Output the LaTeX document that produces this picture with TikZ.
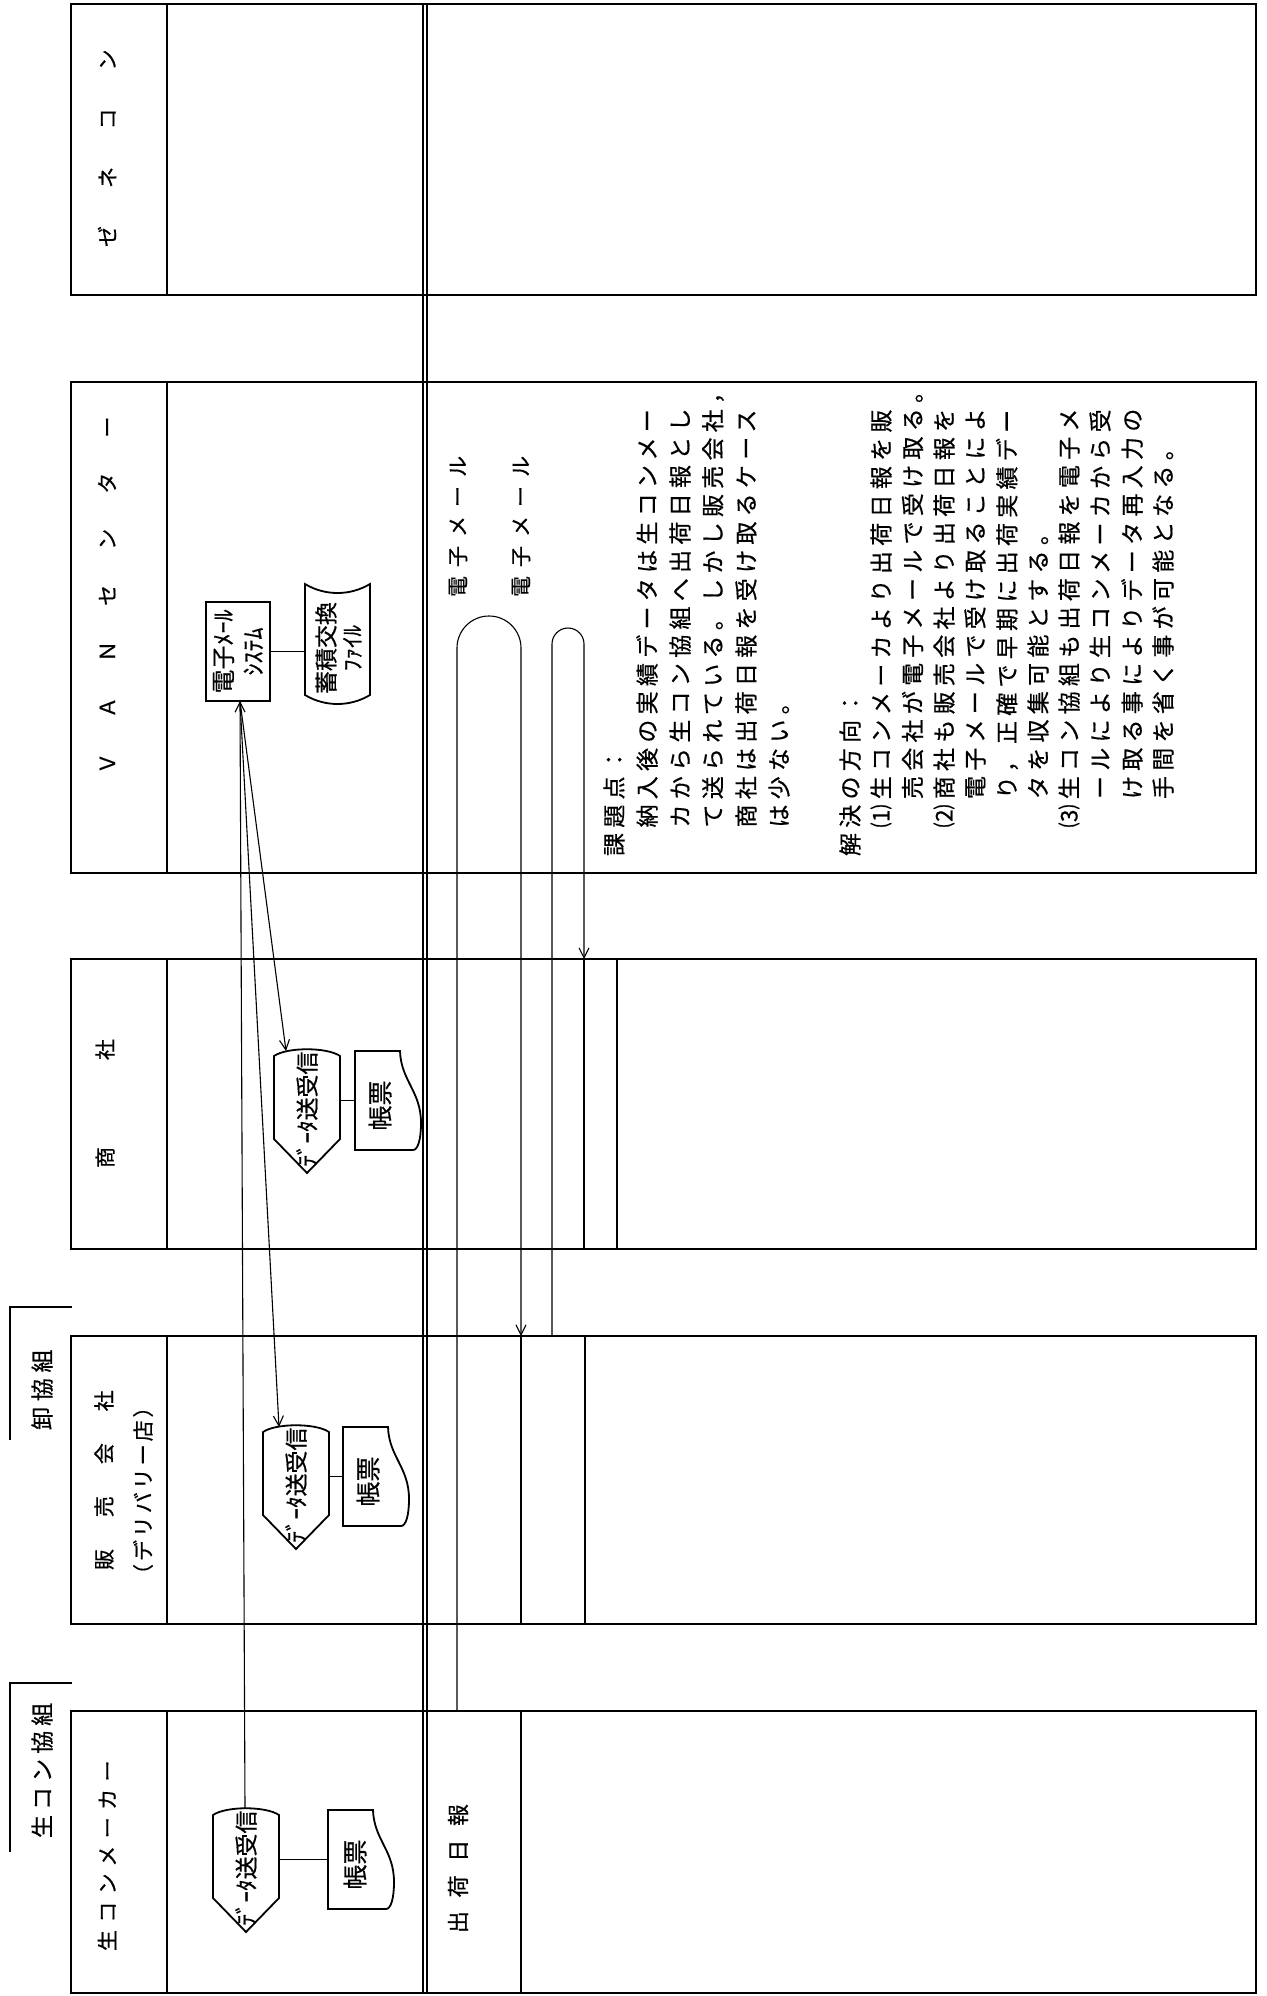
\documentclass[tikz,border=0pt]{standalone}
\usepackage{fontspec}
\setmainfont{Noto Sans CJK JP}[FakeBold=0.6]
\usetikzlibrary{arrows.meta,calc}
\newcommand\fsz[2][0]{\fontsize{#2}{#2}\selectfont}
\newcommand\lsp[1]{\addfontfeatures{LetterSpace=#1}}
\tikzset{
  frame/.style={line width=1.3pt},
  flowline/.style={line width=1.1pt},
  shp/.style={line width=1.8pt},
  arr/.style={-{Straight Barb[length=10pt,width=10pt]}},
  vtxt/.style={rotate=90, inner sep=0pt, outer sep=0pt},
  lane/.style={vtxt, anchor=west, font=\fsz{21}},
  body/.style={vtxt, anchor=west, font=\fsz{23}\lsp{23}},
  ghost/.style={inner sep=0pt, outer sep=0pt},
}
\newcommand\datashp[1]{%
  \draw[shp] ($(#1.north west)+(0,7)$) .. controls ($(#1.north west)+(13,-2)$) and ($(#1.north east)+(-13,-2)$) .. ($(#1.north east)+(0,7)$)
    -- ($(#1.north east)+(0,90)$) -- (#1.south) -- ($(#1.north west)+(0,90)$) -- cycle;}
\newcommand\docshp[1]{%
  \draw[shp] (#1.north west) -- ($(#1.north west)+(45,0)$)
    .. controls ($(#1.north west)+(46,30)$) and ($(#1.north west)+(66,40)$) .. ($(#1.north west)+(66,72)$)
    .. controls ($(#1.north west)+(66,88)$) and ($(#1.north west)+(63,99)$) .. ($(#1.north west)+(58,99)$)
    -- (#1.south west) -- cycle;}
\begin{document}
\begin{tikzpicture}[x=1pt,y=-1pt]
\useasboundingbox (0,0) rectangle (1266,1996);
\fill[white] (0,0) rectangle (1266,1996);

% ---- lane frames ----
\foreach \t/\b in {4/295, 382/873, 959/1249, 1336/1624, 1711/1993} {
  \draw[frame] (71,\t) rectangle (1256,\b);
  \draw[frame] (167,\t) -- (167,\b);
}
\draw[frame] (423,4) -- (423,1993);
\draw[frame] (427,4) -- (427,1993);
% row dividers in the right part
\draw[frame] (521,1711) -- (521,1993);
\draw[frame] (521,1336) -- (521,1624);
\draw[frame] (585,1336) -- (585,1624);
\draw[frame] (584,959) -- (584,1249);
\draw[frame] (617,959) -- (617,1249);

% ---- group brackets ----
\draw[frame] (72,1307) -- (10,1307) -- (10,1440);
\draw[frame] (72,1683) -- (10,1683) -- (10,1852);
\node[lane, font=\fsz{23}\lsp{25}] (g1) at (42,1430) {卸協組};
\node[lane, font=\fsz{23}\lsp{22}] (g2) at (42,1838) {生コン協組};

% ---- lane labels ----
\node[lane, font=\fsz{21}\lsp{181}] (l1) at (107,247) {ゼネコン};
\node[lane, font=\fsz{21}\lsp{167}] (l2) at (107,774) {ＶＡＮセンター};
\node[lane, font=\fsz{21}\lsp{414}] (l3) at (105,1168) {商社};
\node[lane, font=\fsz{21}\lsp{152}] (l4a) at (104,1570) {販売会社};
\node[lane, font=\fsz{21}\lsp{14}] (l4b) at (143,1585) {（デリバリー店）};
\node[lane, font=\fsz{21}\lsp{35}] (l5) at (107,1951) {生コンメーカー};

% ---- VAN centre ----
\node[ghost, draw, shp, minimum width=64pt, minimum height=99pt, anchor=north west] (emsys) at (206,602) {};
\node[vtxt, align=center, font=\fontsize{24}{30}\selectfont] (emsyst) at (emsys.center) {電子ﾒｰﾙ\\ｼｽﾃﾑ};
\node[ghost, minimum width=65pt, minimum height=120pt, anchor=north west] (stf) at (305,584) {};
\draw[shp] (stf.north west) .. controls ($(stf.north west)+(20,12)$) and ($(stf.north east)+(-20,12)$) .. (stf.north east)
  -- ($(stf.north east)+(0,111)$) .. controls ($(stf.north east)+(-20,123)$) and ($(stf.north west)+(20,123)$) .. ($(stf.north west)+(0,111)$) -- cycle;
\node[vtxt, align=center, font=\fontsize{23}{26}\selectfont] (stft) at ($(stf.center)+(1,4)$) {蓄積交換\\ﾌｧｲﾙ};
\draw[shp] (emsys.east) -- (emsys.east -| stf.west);

% ---- shosha ----
\node[ghost, minimum width=66pt, minimum height=124pt, anchor=north] (shd) at (307,1049) {};
\datashp{shd}
\node[vtxt, font=\fsz{23}] (shdt) at ($(shd.center)+(0,-2)$) {ﾃﾞｰﾀ送受信};
\node[ghost, minimum width=66pt, minimum height=99pt, anchor=north west] (shc) at (355,1051) {};
\docshp{shc}
\node[vtxt, font=\fsz{25}] (shct) at ($(shc.center)+(-8,5)$) {帳票};
\draw[shp] (shc.west) -- (shc.west -| shd.east);

% ---- hanbai ----
\node[ghost, minimum width=66pt, minimum height=124pt, anchor=north] (hbd) at (296,1425) {};
\datashp{hbd}
\node[vtxt, font=\fsz{23}] (hbdt) at ($(hbd.center)+(0,-2)$) {ﾃﾞｰﾀ送受信};
\node[ghost, minimum width=66pt, minimum height=99pt, anchor=north west] (hbc) at (343,1427) {};
\docshp{hbc}
\node[vtxt, font=\fsz{25}] (hbct) at ($(hbc.center)+(-8,5)$) {帳票};
\draw[shp] (hbc.west) -- (hbc.west -| hbd.east);

% ---- maker ----
\node[ghost, minimum width=66pt, minimum height=124pt, anchor=north] (nmd) at (246,1808) {};
\datashp{nmd}
\node[vtxt, font=\fsz{23}] (nmdt) at ($(nmd.center)+(0,-2)$) {ﾃﾞｰﾀ送受信};
\node[ghost, minimum width=66pt, minimum height=99pt, anchor=north west] (nmc) at (328,1810) {};
\docshp{nmc}
\node[vtxt, font=\fsz{25}] (nmct) at ($(nmc.center)+(-6,5)$) {帳票};
\draw[shp] (nmc.west) -- (nmc.west -| nmd.east);

% ---- transmission lines ----
\draw[flowline, arr] ($(emsys.south)+(2,0)$) -- ($(shd.north)+(-21,2)$);
\draw[flowline, arr] ($(emsys.south)+(2,0)$) -- ($(hbd.north)+(-17,2)$);
\draw[flowline, arr, {Straight Barb[length=10pt,width=10pt]}-] ($(emsys.south)+(2,0)$) -- ($(nmd.north)+(-1,0)$);

% ---- e-mail flows ----
\coordinate (f1s) at (457,1711);
\coordinate (f1e) at (521,1336);
\coordinate (f2s) at (552,1336);
\coordinate (f2e) at (584,959);
\draw[flowline, arr] (f1s) -- (457,648) .. controls (457,630.3) and (471.3,616) .. (489,616)
  .. controls (506.7,616) and (521,630.3) .. (521,648) -- (f1e);
\draw[flowline, arr] (f2s) -- (552,644) .. controls (552,635.2) and (559.2,628) .. (568,628)
  .. controls (576.8,628) and (584,635.2) .. (584,644) -- (f2e);
\node[lane, font=\fsz{21}\lsp{43}] (m1) at (458,597) {電子メール};
\node[lane, font=\fsz{21}\lsp{43}] (m2) at (521,597) {電子メール};
\node[lane, font=\fsz{22}\lsp{62}] (nip) at (458,1933) {出荷日報};

% ---- explanatory text ----
\node[body] (t1) at (614,856) {課題点：};
\node[body] (t2) at (647,827.5) {納入後の実績データは生コンメー};
\node[body] (t3) at (680,827.5) {カから生コン協組へ出荷日報とし};
\node[body] (t4) at (713,827.5) {て送られている。しかし販売会社，};
\node[body] (t5) at (746,827.5) {商社は出荷日報を受け取るケース};
\node[body] (t6) at (779,827.5) {は少ない。};
\node[body] (s1) at (850,856) {解決の方向：};
\node[body] (s2) at (881,827.5) {⑴生コンメーカより出荷日報を販};
\node[body] (s3) at (912.5,799) {売会社が電子メールで受け取る。};
\node[body] (s4) at (944,827.5) {⑵商社も販売会社より出荷日報を};
\node[body] (s5) at (975,799) {電子メールで受け取ることによ};
\node[body] (s6) at (1007,799) {り，正確で早期に出荷実績デー};
\node[body] (s7) at (1038,799) {タを収集可能とする。};
\node[body] (s8) at (1069,827.5) {⑶生コン協組も出荷日報を電子メ};
\node[body] (s9) at (1100,799) {ールにより生コンメーカから受};
\node[body] (s10) at (1132,799) {け取る事によりデータ再入力の};
\node[body] (s11) at (1163,799) {手間を省く事が可能となる。};
\end{tikzpicture}
\end{document}
